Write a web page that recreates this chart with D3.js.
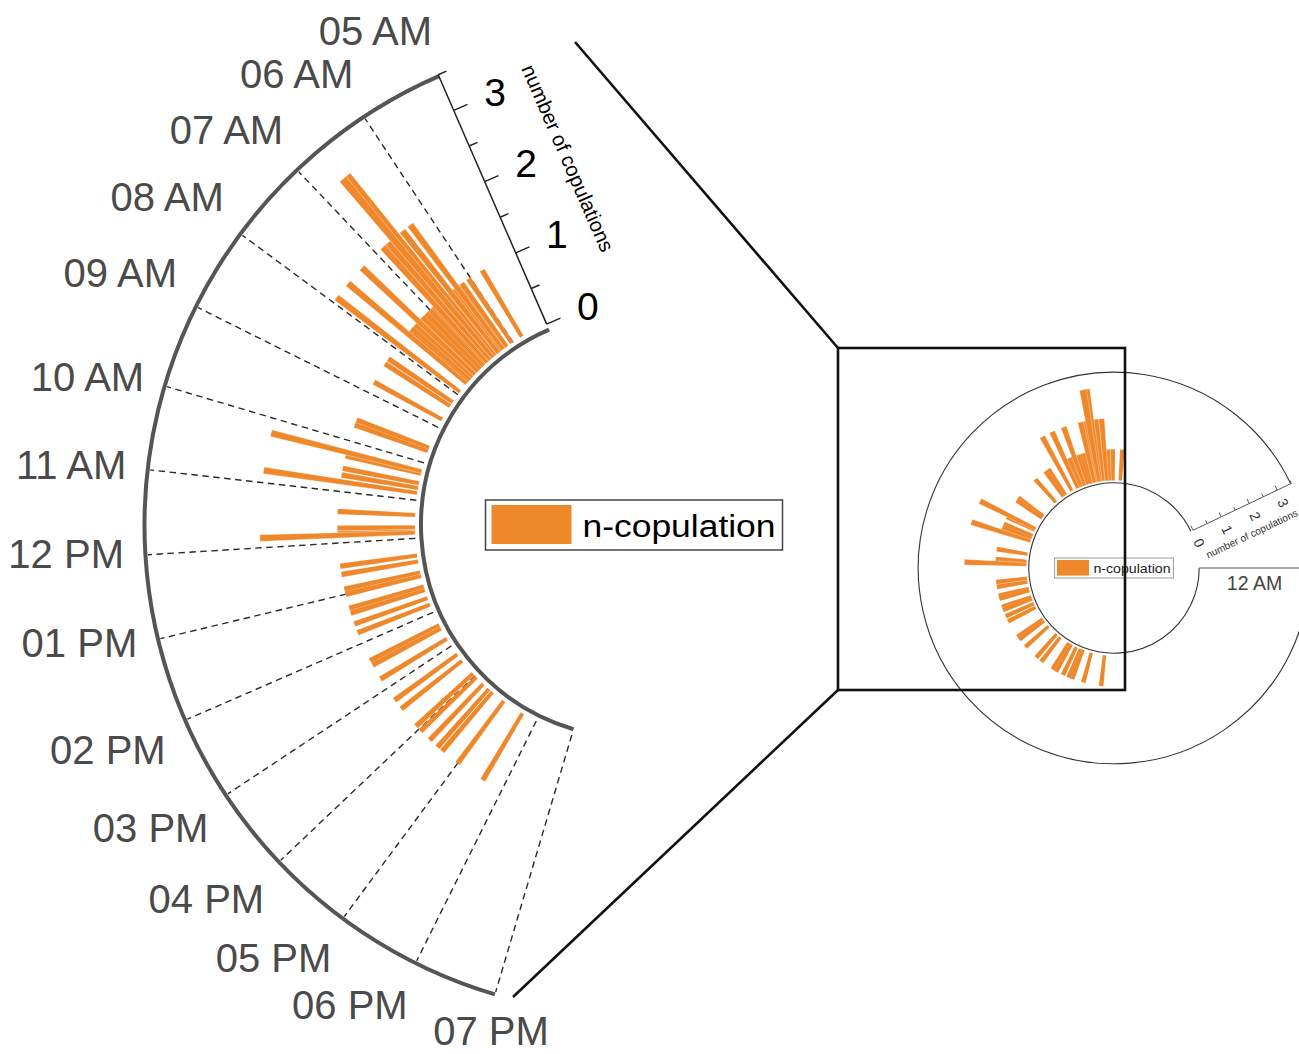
<!DOCTYPE html>
<html>
<head>
<meta charset="utf-8">
<script src="https://cdn.jsdelivr.net/npm/d3@7"></script>
<style>
  html, body { margin: 0; padding: 0; background: #ffffff; }
  svg { display: block; }
</style>
</head>
<body>
<svg id="chart" width="1299" height="1054"></svg>
<script>
// ---------------- data ----------------
const hourTicks  = [5, 6, 7, 8, 9, 10, 11, 12, 13, 14, 15, 16, 17, 18, 19];
const hourLabels = ["05 AM","06 AM","07 AM","08 AM","09 AM","10 AM","11 AM","12 PM",
                    "01 PM","02 PM","03 PM","04 PM","05 PM","06 PM","07 PM"];
// time of each observation (decimal hours) and number of copulations
const copTimes = [5.73, 6.04, 6.2, 6.3, 6.32, 6.4, 6.47, 6.5, 6.59, 6.6, 6.66, 6.7, 6.76, 6.8,
                  6.86, 6.9, 7.0, 7.1, 7.2, 7.3, 7.31, 7.4, 7.5, 7.58, 7.63, 7.91, 8.24, 8.36,
                  8.77, 9.58, 9.68, 10.23, 10.3, 10.55, 10.68, 10.81, 11.39, 11.71, 11.82, 11.85,
                  12.45, 12.61, 12.9, 13.0, 13.28, 13.38, 13.6, 13.78, 14.37, 14.47, 14.78,
                  15.27, 15.48, 15.92, 16.05, 16.3, 16.5, 16.62, 17.0, 17.585];
const copCounts = [1, 1, 1, 1, 2, 1, 2, 1, 3, 1, 3, 1, 2, 1,
                   2, 1, 1, 1, 1, 1, 2, 1, 1, 1, 2, 2, 1, 1,
                   1, 1, 1, 2, 1, 1, 1, 2, 1, 1, 1, 2,
                   1, 1, 1, 1, 1, 1, 1, 1, 1, 1, 1,
                   1, 1, 1, 1, 1, 1, 1, 1, 1];
const radialTicks  = [0, 0.5, 1, 1.5, 2, 2.5, 3, 3.5];
const radialLabels = [0, 1, 2, 3];
const radialMax = 3.5;
const seriesName = "n-copulation";
const axisTitle = "number of copulations";
const midnightLabel = "12 AM";
const smallThetaStart = 1.7;   // hour where the overview polar axis starts

// ---------------- style / layout ----------------
const W = 1299, H = 1054;
const ORANGE = "#EF872B";
const FONT = "'Liberation Sans', Arial, Helvetica, sans-serif";
const toRad = d => d * Math.PI / 180;
const pol = (r, deg) => [r * Math.sin(toRad(deg)), -r * Math.cos(toRad(deg))];
function arcPath(r, a0, a1, ccw) {
  const p = d3.path();
  p.arc(0, 0, r, toRad(a0 - 90), toRad(a1 - 90), ccw);
  return p.toString();
}

const svg = d3.select("#chart");
const barData = copTimes.map((t, i) => ({ t, v: copCounts[i] }))
  .sort((a, b) => a.v - b.v || a.t - b.t);

// ================= MAIN (zoomed) CHART =================
const C = { x: 634, y: 525 };
const rScale = d3.scaleLinear().domain([0, radialMax]).range([219, 491]);
const angScale = d3.scaleLinear()
  .domain([hourTicks[0], hourTicks[hourTicks.length - 1]])
  .range([336.5, 196.5]);               // degrees, 0 = up, clockwise
const innerR = rScale(0) - 6;
const outerR = rScale(radialMax) - 1.5;
const aStart = angScale(hourTicks[0]);
const aEnd = angScale(hourTicks[hourTicks.length - 1]);

const gM = svg.append("g").attr("transform", `translate(${C.x},${C.y})`);

// dashed hour lines
gM.append("g").selectAll("line").data(hourTicks.slice(1)).join("line")
  .attr("x1", h => pol(rScale(0), angScale(h))[0])
  .attr("y1", h => pol(rScale(0), angScale(h))[1])
  .attr("x2", h => pol(outerR - 2.5, angScale(h))[0])
  .attr("y2", h => pol(outerR - 2.5, angScale(h))[1])
  .attr("stroke", "#2a2a2a").attr("stroke-width", 1.4)
  .attr("stroke-dasharray", "6.5,4.5");

// bars
const barHoursMain = 0.105;
const arcGen = d3.arc();
gM.append("g").selectAll("path").data(barData).join("path")
  .attr("d", d => arcGen({
    innerRadius: rScale(0), outerRadius: rScale(d.v),
    startAngle: toRad(angScale(d.t - barHoursMain / 2)),
    endAngle: toRad(angScale(d.t + barHoursMain / 2))
  }))
  .attr("fill", ORANGE)
  .attr("stroke", "#fff").attr("stroke-width", 0.5).attr("stroke-opacity", d => d.v > 1 ? 0.8 : 0.3);

// inner / outer arcs
[innerR, outerR].forEach(r => {
  gM.append("path").attr("d", arcPath(r, aStart, aEnd, true))
    .attr("fill", "none").attr("stroke", "#555").attr("stroke-width", 4);
});

// radial axis along the start edge
const perp = [Math.cos(toRad(aStart)), Math.sin(toRad(aStart))];   // clockwise normal
const gAx = gM.append("g");
gAx.append("line")
  .attr("x1", pol(rScale(0), aStart)[0]).attr("y1", pol(rScale(0), aStart)[1])
  .attr("x2", pol(rScale(radialMax), aStart)[0]).attr("y2", pol(rScale(radialMax), aStart)[1])
  .attr("stroke", "#222").attr("stroke-width", 1.5);
gAx.selectAll("line.tick").data(radialTicks).join("line").attr("class", "tick")
  .attr("x1", v => pol(rScale(v), aStart)[0])
  .attr("y1", v => pol(rScale(v), aStart)[1])
  .attr("x2", v => pol(rScale(v), aStart)[0] + perp[0] * (Number.isInteger(v) ? 15 : 9))
  .attr("y2", v => pol(rScale(v), aStart)[1] + perp[1] * (Number.isInteger(v) ? 15 : 9))
  .attr("stroke", "#222").attr("stroke-width", 1.5);
gAx.selectAll("text.rl").data(radialLabels).join("text").attr("class", "rl")
  .attr("x", v => pol(rScale(v), aStart)[0] + perp[0] * 45)
  .attr("y", v => pol(rScale(v), aStart)[1] + perp[1] * 45)
  .attr("text-anchor", "middle").attr("dominant-baseline", "central")
  .attr("font-family", FONT).attr("font-size", 39).attr("fill", "#000")
  .text(d => d);
{
  const p = pol(rScale(1.85), aStart);
  gAx.append("text")
    .attr("transform", `translate(${p[0] + perp[0] * 86},${p[1] + perp[1] * 86}) rotate(${aStart - 270})`)
    .attr("text-anchor", "middle").attr("dominant-baseline", "central")
    .attr("font-family", FONT).attr("font-size", 20.5).attr("fill", "#000")
    .text(axisTitle);
}

// hour labels (aligned like polar tick labels: box edge/corner at fixed radius)
const labelFS = 40, labelR = 514, labelShiftX = 3;
const maxBaseline = H - C.y - 0.215 * labelFS;   // keep full text box inside the picture
gM.append("g").selectAll("text").data(hourTicks).join("text")
  .each(function (h, i) {
    const a = angScale(h);
    const dx = Math.sin(toRad(a)), dy = -Math.cos(toRad(a));
    const p = pol(labelR, a);
    const anchor = dx < -0.3 ? "end" : (dx > 0.3 ? "start" : "middle");
    let y = dy < -0.3 ? p[1] - 0.21 * labelFS
          : (dy > 0.3 ? p[1] + 0.845 * labelFS : p[1] + 0.3 * labelFS);
    y = Math.min(y, maxBaseline);
    d3.select(this).attr("x", p[0] + labelShiftX).attr("y", y).attr("text-anchor", anchor)
      .attr("font-family", FONT).attr("font-size", labelFS).attr("fill", "#4a4a4a")
      .text(hourLabels[i]);
  });

// legend (main)
{
  const w = 297, h = 50;
  const lg = svg.append("g").attr("transform", `translate(${C.x - w / 2},${C.y - h / 2})`);
  lg.append("rect").attr("width", w).attr("height", h)
    .attr("fill", "#fff").attr("stroke", "#444").attr("stroke-width", 1.5);
  lg.append("rect").attr("x", 6).attr("y", 5).attr("width", 80).attr("height", 39)
    .attr("fill", ORANGE);
  lg.append("text").attr("x", 97).attr("y", 37)
    .attr("font-family", FONT).attr("font-size", 31).attr("fill", "#000")
    .attr("textLength", 193).attr("lengthAdjust", "spacingAndGlyphs")
    .text(seriesName);
}

// ================= OVERVIEW (full day) CHART =================
const S = { x: 1114, y: 568 };
const k = 0.4;
const rS = v => k * rScale(v);
const angS = t => 90 - 15 * t;       // 24 h around the circle, counter-clockwise
const gS = svg.append("g").attr("transform", `translate(${S.x},${S.y})`);

const barHoursSmall = 0.15;
gS.append("g").selectAll("path").data(barData).join("path")
  .attr("d", d => arcGen({
    innerRadius: rS(0), outerRadius: rS(d.v),
    startAngle: toRad(angS(d.t - barHoursSmall / 2)),
    endAngle: toRad(angS(d.t + barHoursSmall / 2))
  }))
  .attr("fill", ORANGE)
  .attr("stroke", "#fff").attr("stroke-width", 0.4).attr("stroke-opacity", d => d.v > 1 ? 0.8 : 0.25);

const sA0 = angS(0), sA1 = angS(smallThetaStart) + 360;
[k * innerR, k * outerR].forEach(r => {
  gS.append("path").attr("d", arcPath(r, sA0, sA1, false))
    .attr("fill", "none").attr("stroke", "#333").attr("stroke-width", 1.1);
});
// midnight radial line
gS.append("line")
  .attr("x1", pol(k * innerR, sA0)[0]).attr("y1", pol(k * innerR, sA0)[1])
  .attr("x2", pol(k * outerR, sA0)[0]).attr("y2", pol(k * outerR, sA0)[1])
  .attr("stroke", "#555").attr("stroke-width", 1.1);
gS.append("text")
  .attr("x", pol((k * innerR + k * outerR) / 2, sA0)[0]).attr("y", 15)
  .attr("text-anchor", "middle").attr("dominant-baseline", "central")
  .attr("font-family", FONT).attr("font-size", 19.5).attr("fill", "#444")
  .text(midnightLabel);

// small radial axis
{
  const a = angS(smallThetaStart);
  const cw = [Math.cos(toRad(a)), Math.sin(toRad(a))];
  gS.append("line")
    .attr("x1", pol(rS(0), a)[0]).attr("y1", pol(rS(0), a)[1])
    .attr("x2", pol(rS(radialMax), a)[0]).attr("y2", pol(rS(radialMax), a)[1])
    .attr("stroke", "#555").attr("stroke-width", 1);
  gS.selectAll("line.st").data(radialTicks).join("line").attr("class", "st")
    .attr("x1", v => pol(rS(v), a)[0]).attr("y1", v => pol(rS(v), a)[1])
    .attr("x2", v => pol(rS(v), a)[0] - cw[0] * (Number.isInteger(v) ? 5 : 3.5))
    .attr("y2", v => pol(rS(v), a)[1] - cw[1] * (Number.isInteger(v) ? 5 : 3.5))
    .attr("stroke", "#555").attr("stroke-width", 1);
  gS.selectAll("text.sl").data(radialLabels).join("text").attr("class", "sl")
    .attr("transform", v => {
      const p = pol(rS(v), a);
      return `translate(${p[0] + cw[0] * 14},${p[1] + cw[1] * 14}) rotate(${a})`;
    })
    .attr("text-anchor", "middle").attr("dominant-baseline", "central")
    .attr("font-family", FONT).attr("font-size", 14).attr("fill", "#333")
    .text(d => d);
  const p = pol(rS(1.66), a);
  gS.append("text")
    .attr("transform", `translate(${p[0] + cw[0] * 28.5},${p[1] + cw[1] * 28.5}) rotate(${a - 90})`)
    .attr("text-anchor", "middle").attr("dominant-baseline", "central")
    .attr("font-family", FONT).attr("font-size", 10.2).attr("fill", "#333")
    .text(axisTitle);
}

// legend (overview)
{
  const w = 297 * k, h = 50 * k;
  const lg = svg.append("g").attr("transform", `translate(${S.x - w / 2},${S.y - h / 2})`);
  lg.append("rect").attr("width", w).attr("height", h)
    .attr("fill", "#fff").attr("stroke", "#999").attr("stroke-width", 1);
  lg.append("rect").attr("x", 6 * k).attr("y", 5 * k).attr("width", 80 * k).attr("height", 39 * k)
    .attr("fill", ORANGE);
  lg.append("text").attr("x", 97 * k).attr("y", 37 * k)
    .attr("font-family", FONT).attr("font-size", 31 * k).attr("fill", "#222")
    .attr("textLength", 193 * k).attr("lengthAdjust", "spacingAndGlyphs")
    .text(seriesName);
}

// ================= zoom frame & connectors =================
const frame = { x0: 838, y0: 348, x1: 1125, y1: 690 };
const connTop = [575, 42], connBot = [513, 997];
const gF = svg.append("g").attr("fill", "none").attr("stroke", "#111").attr("stroke-width", 2.6);
gF.append("rect").attr("x", frame.x0).attr("y", frame.y0)
  .attr("width", frame.x1 - frame.x0).attr("height", frame.y1 - frame.y0);
gF.append("line").attr("x1", connTop[0]).attr("y1", connTop[1]).attr("x2", frame.x0).attr("y2", frame.y0);
gF.append("line").attr("x1", connBot[0]).attr("y1", connBot[1]).attr("x2", frame.x0).attr("y2", frame.y1);
</script>
</body>
</html>
